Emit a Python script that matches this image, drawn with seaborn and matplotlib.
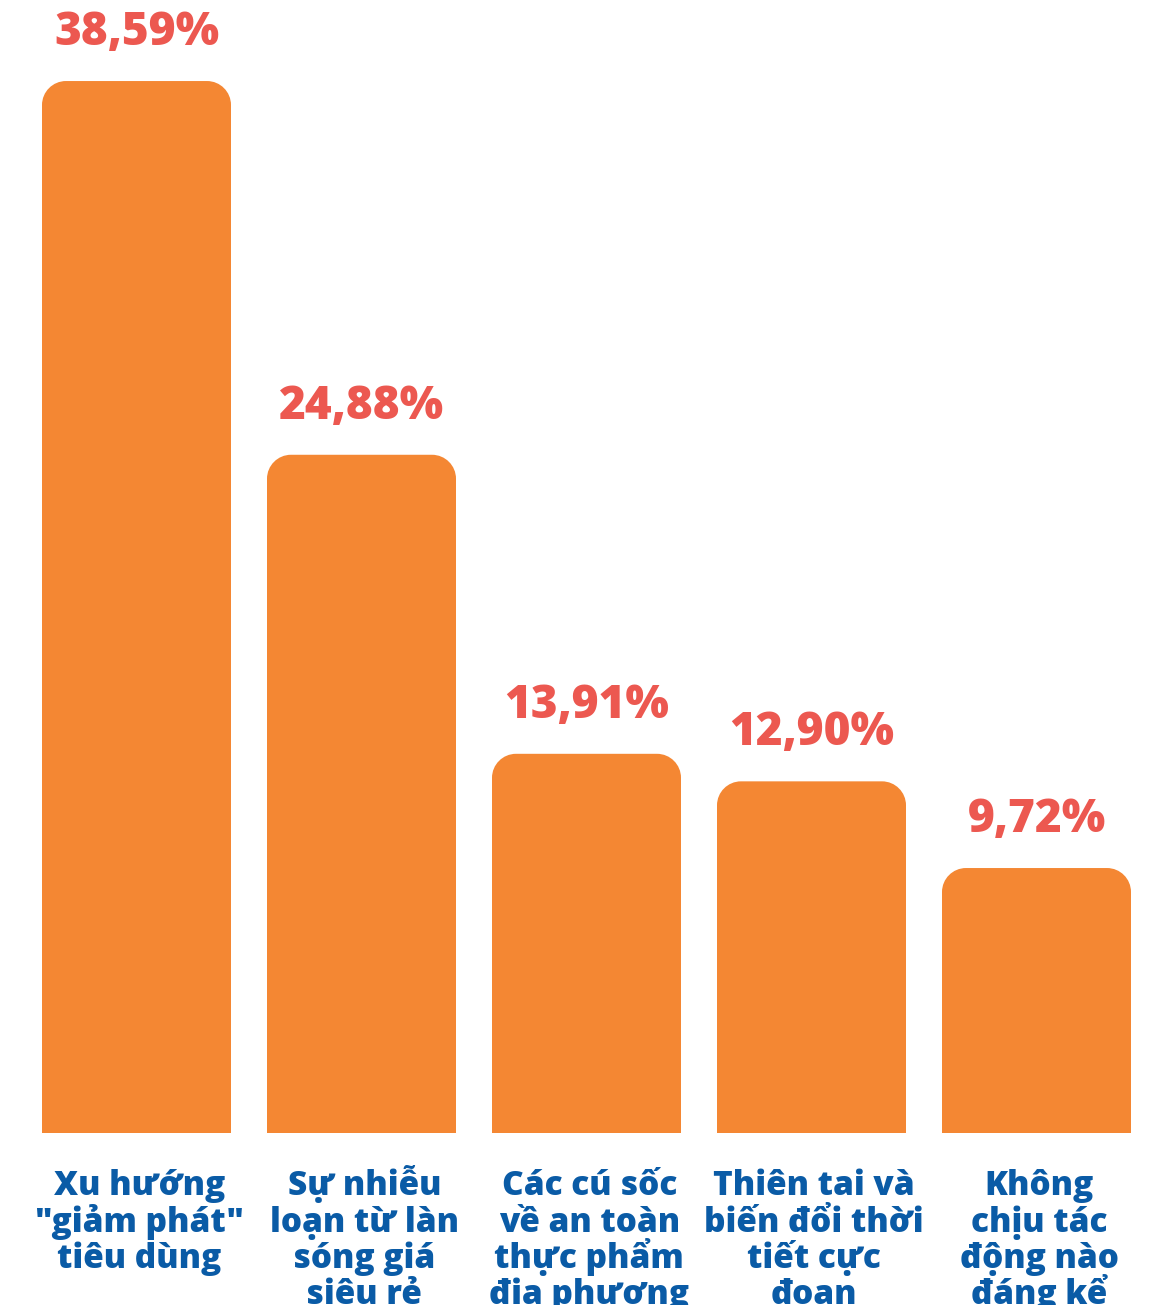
import matplotlib
matplotlib.use("Agg")
import matplotlib.pyplot as plt
from matplotlib.path import Path
from matplotlib.patches import PathPatch
import seaborn as sns
import pandas as pd

categories = [
    'Xu hướng\n"giảm phát"\ntiêu dùng',
    "Sự nhiễu\nloạn từ làn\nsóng giá\nsiêu rẻ",
    "Các cú sốc\nvề an toàn\nthực phẩm\nđịa phương",
    "Thiên tai và\nbiến đổi thời\ntiết cực\nđoan",
    "Không\nchịu tác\nđộng nào\nđáng kể",
]
values = [38.59, 24.88, 13.91, 12.90, 9.72]
value_labels = ["38,59%", "24,88%", "13,91%", "12,90%", "9,72%"]

BAR_COLOR = "#F48733"
VALUE_COLOR = "#EC5850"
LABEL_COLOR = "#0A5BA6"

W, H, DPI = 1151, 1305, 100
sns.set_theme(style="white")
plt.rcParams["font.family"] = ["Open Sans", "DejaVu Sans"]

fig = plt.figure(figsize=(W / DPI, H / DPI), dpi=DPI)
base_px = 1133
ax = fig.add_axes([0, (H - base_px) / H, 1, base_px / H])

df = pd.DataFrame({"cat": categories, "val": values})
sns.barplot(data=df, x="cat", y="val", color=BAR_COLOR, width=0.84,
            saturation=1, ax=ax)

pitch_px = 225.0
left_center_px = 136.5
ax.set_xlim(-left_center_px / pitch_px, (W - left_center_px) / pitch_px)
px_per_unit_y = 27.26
ax.set_ylim(0, base_px / px_per_unit_y)
ax.axis("off")

# Replace the square bars with bars rounded on their top corners
radius_px = 24
rx = radius_px / pitch_px
ry = radius_px / px_per_unit_y
k = 0.5523
for p in list(ax.patches):
    x0, w, h = p.get_x(), p.get_width(), p.get_height()
    x1 = x0 + w
    verts = [
        (x0, 0), (x0, h - ry),
        (x0, h - ry + k * ry), (x0 + rx - k * rx, h), (x0 + rx, h),
        (x1 - rx, h),
        (x1 - rx + k * rx, h), (x1, h - ry + k * ry), (x1, h - ry),
        (x1, 0), (x0, 0),
    ]
    codes = [Path.MOVETO, Path.LINETO,
             Path.CURVE4, Path.CURVE4, Path.CURVE4,
             Path.LINETO,
             Path.CURVE4, Path.CURVE4, Path.CURVE4,
             Path.LINETO, Path.CLOSEPOLY]
    ax.add_patch(PathPatch(Path(verts, codes), facecolor=BAR_COLOR,
                           edgecolor="none", clip_on=False))
    p.set_visible(False)

for i, (v, lab) in enumerate(zip(values, value_labels)):
    ax.annotate(lab, xy=(i, v), xytext=(0, 26), textcoords="offset points",
                ha="center", va="baseline", fontsize=33, fontweight=800,
                color=VALUE_COLOR, annotation_clip=False)

# Category names under each bar, one line at a time on an even baseline grid
px_to_pt = 72 / DPI
first_baseline_px = 62
line_step_px = 36.5
for i, cat in enumerate(categories):
    for j, line in enumerate(cat.split("\n")):
        dy = -(first_baseline_px + j * line_step_px) * px_to_pt
        ax.annotate(line, xy=(i, 0), xytext=(2, dy), textcoords="offset points",
                    ha="center", va="baseline", fontsize=24, fontweight=800,
                    color=LABEL_COLOR, annotation_clip=False)

fig.savefig("out.png", dpi=DPI)
